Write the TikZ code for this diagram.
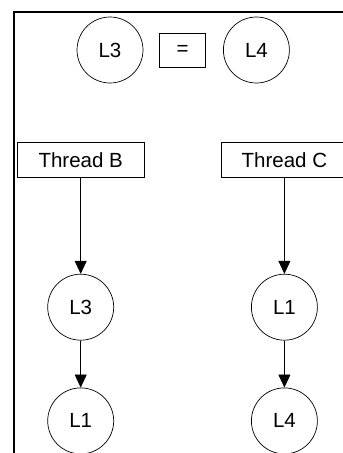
\documentclass[tikz,border=0pt]{standalone}
\usepackage{fontspec}
\setmainfont{Liberation Sans}
\usepackage{tikz}
\usetikzlibrary{arrows.meta, positioning}

\begin{document}
\begin{tikzpicture}[
  x=1pt, y=-1pt,
  node distance=16pt,
  lockcircle/.style={circle, draw, line width=0.7pt, minimum size=66pt, inner sep=0pt, font=\fontsize{20.5}{24}\selectfont},
  opbox/.style={rectangle, draw, line width=0.7pt, minimum width=46pt, minimum height=34pt, inner sep=0pt, font=\fontsize{20.5}{24}\selectfont},
  threadbox/.style={rectangle, draw, line width=0.7pt, minimum width=127pt, minimum height=35pt, inner sep=0pt, font=\fontsize{20.5}{24}\selectfont},
  arrow/.style={-{Triangle[length=13pt, width=12pt]}, line width=0.7pt},
  frame/.style={draw, line width=1.8pt}
]

  % The page is cut from a bigger frame, so we clip to the reference size.
  \clip (0,0) rectangle (343,453);
  \draw[frame] (14,12) rectangle (400,500);

  % Lock order on top: L3 = L4
  \node[lockcircle] (topA) at (110,50) {L3};
  \node[opbox, right=16pt of topA] (eq) {=};
  \node[lockcircle, right=17pt of eq] (topB) {L4};

  % The two threads, each with its own lock sequence
  \node[threadbox] (thrB) at (80.7,160) {Thread B};
  \node[threadbox, right=76pt of thrB] (thrC) {Thread C};

  \node[lockcircle, below=96pt of thrB] (b1) {L3};
  \node[lockcircle, below=47pt of b1] (b2) {L1};
  \node[lockcircle, below=96pt of thrC] (c1) {L1};
  \node[lockcircle, below=47pt of c1] (c2) {L4};

  % Arrows go straight down each column
  \draw[arrow] (thrB) -- (b1);
  \draw[arrow] (b1) -- (b2);
  \draw[arrow] (thrC) -- (c1);
  \draw[arrow] (c1) -- (c2);

\end{tikzpicture}
\end{document}
